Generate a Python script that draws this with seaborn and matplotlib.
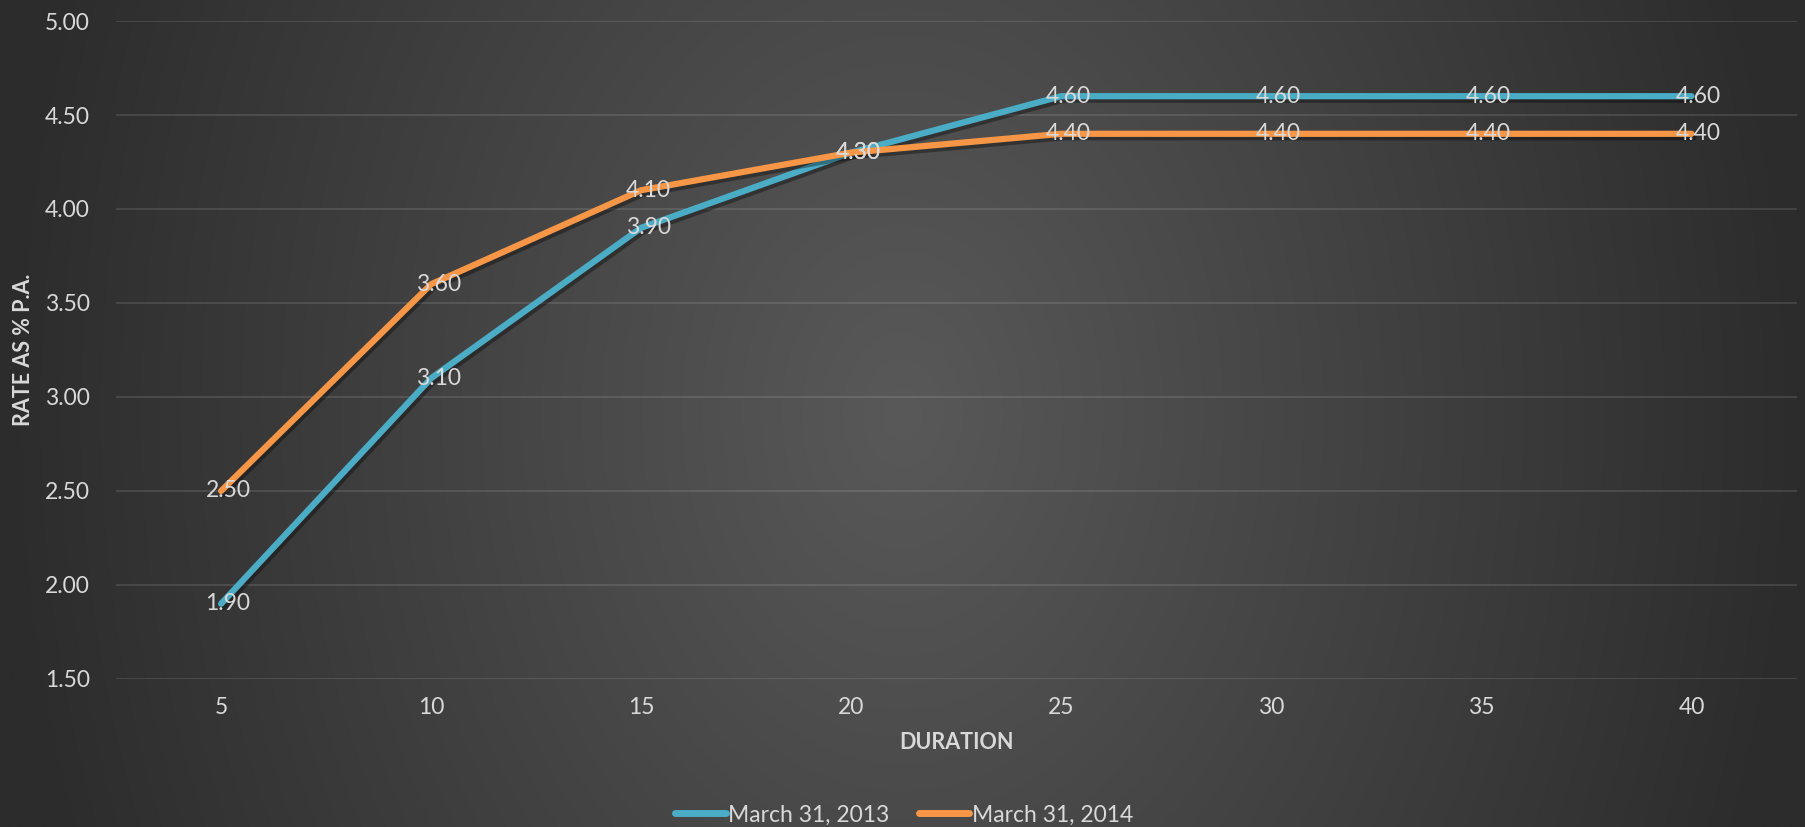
import numpy as np
import pandas as pd
import matplotlib
matplotlib.use("Agg")
import matplotlib.pyplot as plt
import matplotlib.patheffects as pe
import seaborn as sns

duration = [5, 10, 15, 20, 25, 30, 35, 40]
rate_2013 = [1.90, 3.10, 3.90, 4.30, 4.60, 4.60, 4.60, 4.60]
rate_2014 = [2.50, 3.60, 4.10, 4.30, 4.40, 4.40, 4.40, 4.40]
series_names = ["March 31, 2013", "March 31, 2014"]
series_colors = ["#4BACC6", "#F79646"]
y_ticks = [1.50, 2.00, 2.50, 3.00, 3.50, 4.00, 4.50, 5.00]

df = pd.DataFrame({
    "Duration": duration * 2,
    "Rate": rate_2013 + rate_2014,
    "Series": [series_names[0]] * len(duration) + [series_names[1]] * len(duration),
})

sns.set_theme(style="dark")
plt.rcParams["font.family"] = ["Lato", "DejaVu Sans"]
text_color = "#D9D9D9"

fig = plt.figure(figsize=(18.05, 8.27), dpi=100)

# radial dark-grey background, lighter in the middle
bg = fig.add_axes([0, 0, 1, 1], zorder=-10)
gx, gy = np.meshgrid(np.linspace(-1, 1, 900), np.linspace(-1, 1, 400))
d = np.clip(np.sqrt(gx ** 2 + (0.34 * gy) ** 2), 0, 1)
shade = (89 - 45 * d) / 255.0
bg.imshow(np.dstack([shade] * 3), aspect="auto", extent=[0, 1, 0, 1], interpolation="bilinear")
bg.set_axis_off()

ax = fig.add_axes([0.0643, 0.179, 0.931, 0.7956])
ax.set_facecolor("none")

palette = dict(zip(series_names, series_colors))
sns.lineplot(data=df, x="Duration", y="Rate", hue="Series", palette=palette,
             linewidth=4.5, ax=ax, legend=True, sort=False)
for line in ax.lines:
    line.set_solid_capstyle("round")
    line.set_solid_joinstyle("round")
    line.set_path_effects([pe.SimpleLineShadow(offset=(1.5, -2.5), shadow_color="black", alpha=0.35),
                           pe.Normal()])

ax.set_xlim(2.5, 42.5)
ax.set_ylim(1.5, 5.0)
ax.set_xticks(duration)
ax.set_xticklabels([str(v) for v in duration])
ax.set_yticks(y_ticks)
ax.set_yticklabels([f"{v:.2f}" for v in y_ticks])
ax.tick_params(axis="both", colors=text_color, labelsize=16.5, length=0)
ax.tick_params(axis="x", pad=13)
ax.tick_params(axis="y", pad=19)
ax.grid(axis="y", color="white", alpha=0.12, linewidth=1.3)
ax.grid(axis="x", visible=False)
for s in ax.spines.values():
    s.set_visible(False)

ax.set_xlabel("DURATION", color=text_color, fontsize=15.5, fontweight="bold", labelpad=10)
ax.set_ylabel("RATE AS % P.A.", color=text_color, fontsize=15.5, fontweight="bold", labelpad=8)

for vals in (rate_2013, rate_2014):
    for x, y in zip(duration, vals):
        ax.annotate(f"{y:.2f}", (x, y), xytext=(5, 0), textcoords="offset points",
                    ha="center", va="center", color=text_color, fontsize=16.5, zorder=5)

handles, labels = ax.get_legend_handles_labels()
ax.get_legend().remove()
leg = fig.legend(handles, labels, loc="center", bbox_to_anchor=(0.5008, 0.0145), ncol=2,
                 frameon=False, fontsize=16.5, handlelength=2.2, handletextpad=0.1,
                 columnspacing=1.3)
for t in leg.get_texts():
    t.set_color(text_color)
for h in leg.legend_handles:
    h.set_linewidth(5)
    h.set_solid_capstyle("round")
    h.set_path_effects([])

fig.savefig("out.png", dpi=100)
